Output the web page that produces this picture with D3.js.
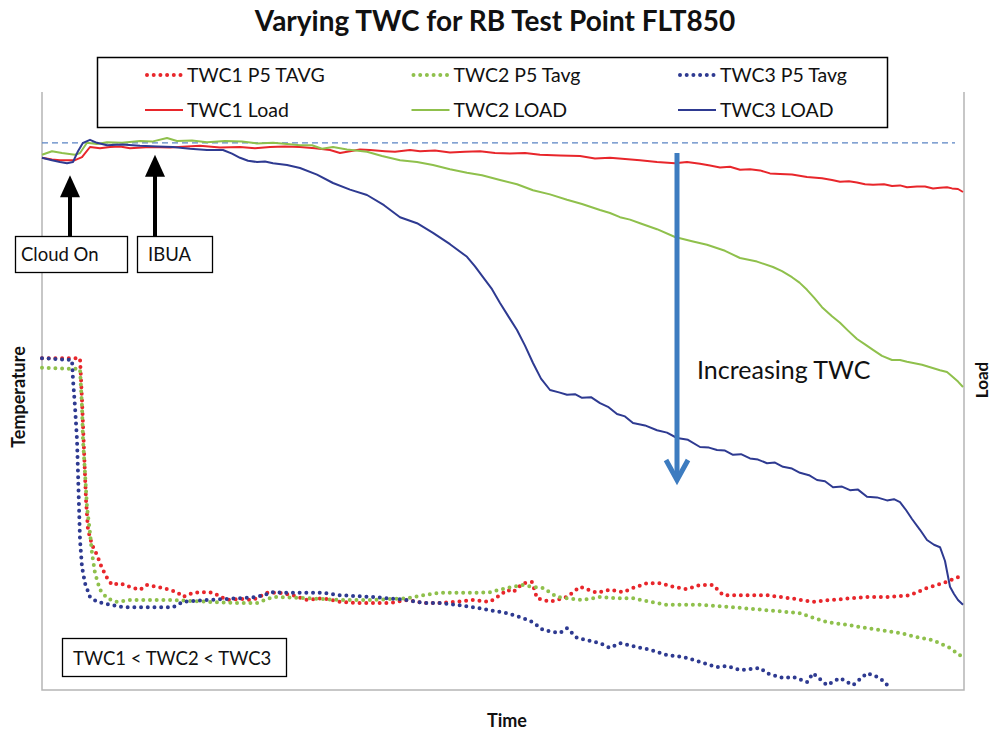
<!DOCTYPE html>
<html>
<head>
<meta charset="utf-8">
<script src="https://cdn.jsdelivr.net/npm/d3@7"></script>
<style>
  body { margin: 0; background: #fff; }
  text { font-family: Lato, 'Open Sans', sans-serif; fill: #111; }
</style>
</head>
<body>
<svg width="994" height="734"></svg>
<script>
// time in seconds, temperature / load in relative units (0-100)
const twc1Temp = [[0,55.3],[76,55.3],[80,48.3],[84,40.0],[88,31.7],[92,26.7],[100,24.2],[110,22.5],[120,20.3],[130,18.7],[140,17.5],
  [156,17.8],[176,17.2],[196,16.7],[210,17.5],[242,17.0],[270,16.3],[282,15.5],[302,16.2],[330,16.3],[342,16.2],[370,15.0],[396,15.2],
  [422,15.0],[450,16.2],[476,16.2],[502,15.8],[530,15.0],[562,15.3],[596,14.7],[630,14.5],[662,14.5],[696,14.5],[730,15.0],[762,14.5],
  [796,14.5],[830,14.7],[862,15.0],[896,14.7],[916,15.8],[930,16.7],[942,16.3],[962,17.8],[980,18.0],[990,15.3],[1016,14.7],[1050,15.5],
  [1076,17.2],[1110,16.2],[1136,16.7],[1162,16.3],[1182,17.0],[1210,17.8],[1236,17.8],[1262,17.2],[1290,16.8],[1316,17.5],[1342,17.5],
  [1362,15.8],[1382,15.8],[1450,15.8],[1496,15.3],[1542,14.7],[1576,15.0],[1650,15.5],[1690,15.5],[1736,15.8],[1770,17.0],[1802,17.8],[1844,19.2]];

const twc2Temp = [[0,53.7],[76,53.5],[80,47.2],[82,41.7],[86,36.2],[90,30.5],[96,26.2],[100,22.8],[106,19.5],[116,16.7],[130,15.3],
  [150,14.7],[176,15.0],[210,15.0],[262,15.0],[330,14.7],[396,14.5],[430,14.5],[462,15.5],[530,15.3],[596,15.0],[662,15.0],[730,15.3],
  [762,15.8],[796,16.2],[862,16.2],[896,16.3],[930,17.0],[962,17.5],[982,17.2],[1002,17.0],[1030,15.5],[1050,15.3],[1082,15.0],
  [1116,15.5],[1150,15.3],[1182,15.3],[1216,14.7],[1250,14.2],[1316,14.2],[1382,13.8],[1450,13.3],[1516,12.8],[1536,12.2],[1570,11.3],
  [1616,10.8],[1650,10.3],[1716,9.5],[1750,8.8],[1782,8.3],[1816,7.0],[1844,5.3]];

const twc3Temp = [[0,55.3],[60,55.0],[62,51.7],[66,47.2],[70,41.7],[72,36.2],[74,30.5],[76,25.0],[80,20.5],[86,17.8],[96,15.5],
  [110,14.7],[136,14.2],[162,13.8],[196,13.8],[262,13.8],[282,14.7],[330,15.0],[396,15.3],[430,15.5],[462,16.3],[496,16.2],[530,16.2],
  [562,16.2],[596,15.8],[662,15.5],[730,15.0],[762,14.5],[796,14.5],[830,14.2],[862,13.8],[896,13.3],[930,12.8],[962,12.0],[982,11.3],
  [1002,10.0],[1036,9.5],[1050,10.3],[1070,8.7],[1116,7.8],[1136,7.0],[1156,7.8],[1182,7.3],[1216,6.7],[1250,5.8],[1282,5.5],[1316,4.7],
  [1350,3.8],[1370,4.0],[1396,3.3],[1436,3.7],[1450,2.8],[1482,2.0],[1502,2.2],[1530,1.3],[1542,2.8],[1570,0.8],[1596,2.0],[1622,0.8],
  [1650,2.8],[1676,2.0],[1692,0.7]];

const twc1Load = [[0,88.7],[20,88.4],[36,88.3],[66,88.3],[80,88.8],[96,90.5],[116,90.3],[136,90.5],[156,90.6],[176,90.3],[216,90.5],
  [256,90.4],[316,90.7],[356,90.4],[396,90.5],[426,90.3],[456,90.5],[486,90.6],[516,90.5],[546,90.3],[576,90.0],[596,89.5],[616,89.8],
  [636,90.1],[656,90.0],[686,89.8],[706,89.7],[736,90.0],[756,89.8],[786,89.9],[816,89.6],[846,89.7],[876,89.8],[906,89.5],[936,89.4],
  [966,89.5],[996,89.2],[1036,89.1],[1076,89.0],[1106,88.6],[1136,88.7],[1166,88.5],[1196,88.3],[1230,88.0],[1266,87.8],[1290,88.0],
  [1316,87.7],[1336,87.4],[1356,87.1],[1376,87.2],[1396,86.7],[1416,86.8],[1436,86.6],[1456,86.1],[1476,86.0],[1500,85.9],[1530,85.5],
  [1560,85.3],[1580,85.0],[1596,84.7],[1614,84.8],[1630,84.6],[1646,84.3],[1662,84.2],[1684,84.3],[1700,84.0],[1716,84.1],[1730,83.8],
  [1750,83.9],[1766,83.9],[1782,83.6],[1796,83.7],[1810,83.8],[1820,83.6],[1832,83.5],[1842,83.0]];

const twc2Load = [[0,89.2],[20,89.8],[40,89.5],[66,89.2],[76,89.5],[90,91.2],[110,91.0],[130,91.3],[160,91.2],[196,91.5],[220,91.4],
  [250,92.0],[270,91.5],[300,91.6],[330,91.3],[366,91.5],[400,91.4],[430,91.1],[462,91.2],[490,91.0],[516,90.8],[540,90.8],[560,90.2],
  [582,90.5],[610,90.1],[650,89.7],[680,89.0],[716,88.3],[750,88.0],[782,87.5],[816,86.8],[850,86.2],[880,85.8],[916,85.0],[950,84.3],
  [982,83.3],[1016,82.6],[1050,81.7],[1080,81.0],[1116,80.0],[1136,79.5],[1156,78.8],[1176,78.4],[1196,77.8],[1230,76.8],[1266,75.5],
  [1300,74.8],[1330,74.2],[1366,73.2],[1396,72.0],[1430,71.4],[1462,70.5],[1480,69.8],[1500,68.8],[1515,67.9],[1530,66.7],[1545,65.3],
  [1560,63.8],[1580,62.3],[1596,61.2],[1612,59.9],[1630,58.5],[1646,57.6],[1662,56.7],[1680,55.7],[1700,55.0],[1716,55.0],[1730,54.7],
  [1760,54.2],[1796,53.3],[1810,53.0],[1820,52.3],[1832,51.4],[1842,50.5]];

const twc3Load = [[0,88.7],[20,88.3],[36,88.0],[50,87.8],[62,88.0],[72,89.8],[82,91.2],[96,91.7],[110,91.2],[130,90.8],[160,90.9],
  [196,90.7],[230,90.6],[262,90.5],[296,90.2],[330,90.0],[362,90.0],[380,89.4],[396,88.7],[412,88.2],[430,88.0],[446,88.1],[462,87.8],
  [490,87.5],[516,87.0],[550,85.9],[582,84.5],[616,83.4],[650,82.5],[684,80.8],[716,78.8],[750,77.8],[782,76.2],[816,74.3],[850,72.2],
  [866,70.6],[882,68.8],[900,66.8],[916,64.5],[934,62.1],[950,60.0],[966,57.4],[982,54.5],[998,51.9],[1016,50.0],[1034,49.6],[1050,49.2],
  [1066,49.3],[1080,48.7],[1098,48.8],[1116,47.8],[1132,47.2],[1150,46.0],[1166,45.6],[1182,44.5],[1206,44.1],[1230,43.3],[1250,42.9],
  [1270,42.0],[1292,41.7],[1316,40.5],[1334,40.4],[1350,40.0],[1366,39.9],[1382,39.2],[1398,39.3],[1416,38.6],[1432,38.4],[1450,37.8],
  [1466,37.9],[1482,37.2],[1500,36.9],[1516,36.2],[1534,35.8],[1550,35.0],[1566,34.8],[1582,33.8],[1600,33.9],[1616,33.3],[1632,33.4],
  [1650,32.2],[1670,32.1],[1690,31.6],[1704,31.8],[1716,31.3],[1728,30.0],[1740,28.5],[1756,26.7],[1770,25.0],[1784,24.2],[1796,23.8],
  [1806,21.5],[1816,17.2],[1824,16.0],[1832,15.0],[1842,14.2]];

const refLoad = 91.2;

const seriesNames = ['TWC1 P5 TAVG', 'TWC2 P5 Tavg', 'TWC3 P5 Tavg', 'TWC1 Load', 'TWC2 LOAD', 'TWC3 LOAD'];
const seriesColors = ['#e8262b', '#8fc04c', '#2e3a91', '#e8262b', '#8fc04c', '#2e3a91'];

const notes = [
  {label: 'Cloud On', t: 56, v: 85.8},
  {label: 'IBUA', t: 226, v: 89.2}
];

const svg = d3.select('svg');
const margin = {top: 92, right: 30, bottom: 44, left: 42};
const width = +svg.attr('width') - margin.left - margin.right;
const height = +svg.attr('height') - margin.top - margin.bottom;

const x = d3.scaleLinear()
  .domain([0, 1844])
  .range([margin.left, margin.left + width]);

const yTemp = d3.scaleLinear()
  .domain([0, 100])
  .range([margin.top + height, margin.top - 2]);

const yLoad = d3.scaleLinear()
  .domain([0, 100])
  .range([margin.top + height, margin.top - 2]);

// frame (left, right, bottom)
svg.append('path')
  .attr('d', `M${x(0)},${margin.top}V${yTemp(0)}H${x(1844)}V${margin.top}`)
  .attr('stroke', '#b5b5b5')
  .attr('stroke-width', 1.5)
  .attr('fill', 'none');

// title + axis titles
svg.append('text')
  .attr('x', 495)
  .attr('y', 31)
  .attr('text-anchor', 'middle')
  .attr('font-size', 28)
  .attr('font-weight', 'bold')
  .text('Varying TWC for RB Test Point FLT850');

svg.append('text')
  .attr('transform', 'translate(25,397) rotate(-90)')
  .attr('text-anchor', 'middle')
  .attr('font-size', 18)
  .attr('font-weight', 'bold')
  .text('Temperature');

svg.append('text')
  .attr('transform', 'translate(988,380) rotate(-90)')
  .attr('text-anchor', 'middle')
  .attr('font-size', 17)
  .attr('font-weight', 'bold')
  .text('Load');

svg.append('text')
  .attr('x', 507)
  .attr('y', 727)
  .attr('text-anchor', 'middle')
  .attr('font-size', 18)
  .attr('font-weight', 'bold')
  .text('Time');

// reference dashed line
svg.append('line')
  .attr('x1', x(0))
  .attr('x2', x(1826))
  .attr('y1', yLoad(refLoad))
  .attr('y2', yLoad(refLoad))
  .attr('stroke', '#5b84c4')
  .attr('stroke-width', 1.2)
  .attr('stroke-dasharray', '6 4');

const lineT = d3.line().x(d => x(d[0])).y(d => yTemp(d[1]));
const lineL = d3.line().x(d => x(d[0])).y(d => yLoad(d[1]));

const tempSeries = [twc1Temp, twc2Temp, twc3Temp];
const loadSeries = [twc1Load, twc2Load, twc3Load];

svg.append('g').selectAll('path')
  .data(tempSeries)
  .enter().append('path')
    .attr('d', lineT)
    .attr('fill', 'none')
    .attr('stroke', (d, i) => seriesColors[i])
    .attr('stroke-width', 4)
    .attr('stroke-linecap', 'round')
    .attr('stroke-dasharray', '0 6.7');

svg.append('g').selectAll('path')
  .data(loadSeries)
  .enter().append('path')
    .attr('d', lineL)
    .attr('fill', 'none')
    .attr('stroke', (d, i) => seriesColors[i + 3])
    .attr('stroke-width', 2)
    .attr('stroke-linejoin', 'round');

// legend
const legend = svg.append('g');
legend.append('rect')
  .attr('x', 97.5)
  .attr('y', 57.5)
  .attr('width', 790)
  .attr('height', 70)
  .attr('fill', '#fff')
  .attr('stroke', '#000')
  .attr('stroke-width', 1.5);

const legendItem = legend.selectAll('.item')
  .data(seriesNames)
  .enter().append('g')
    .attr('class', 'item')
    .attr('transform', (d, i) => `translate(${145 + (i % 3) * 266.5},${i < 3 ? 75 : 110})`);

legendItem.append('line')
  .attr('x1', (d, i) => i < 3 ? 2 : 0)
  .attr('x2', 38)
  .attr('stroke', (d, i) => seriesColors[i])
  .attr('stroke-width', (d, i) => i < 3 ? 4 : 2)
  .attr('stroke-linecap', (d, i) => i < 3 ? 'round' : 'butt')
  .attr('stroke-dasharray', (d, i) => i < 3 ? '0 6.7' : null);

legendItem.append('text')
  .attr('x', 42)
  .attr('dy', '0.35em')
  .attr('font-size', 19.5)
  .text(d => d);

// annotations
const note = svg.selectAll('.note')
  .data(notes)
  .enter().append('g')
    .attr('class', 'note');

note.append('line')
  .attr('x1', d => x(d.t))
  .attr('x2', d => x(d.t))
  .attr('y1', 236)
  .attr('y2', d => yLoad(d.v) + 18)
  .attr('stroke', '#000')
  .attr('stroke-width', 4);

note.append('path')
  .attr('d', d => {
    const cx = x(d.t), cy = yLoad(d.v);
    return `M${cx},${cy}L${cx - 10},${cy + 22}L${cx + 10},${cy + 22}Z`;
  })
  .attr('fill', '#000');

const noteBox = [{x: 15, w: 112}, {x: 137, w: 75}];
note.append('rect')
  .attr('x', (d, i) => noteBox[i].x + 0.5)
  .attr('y', 236.5)
  .attr('width', (d, i) => noteBox[i].w)
  .attr('height', 36)
  .attr('fill', '#fff')
  .attr('stroke', '#000')
  .attr('stroke-width', 1.3);

note.append('text')
  .attr('x', (d, i) => noteBox[i].x + 6 + (i ? 5 : 0))
  .attr('y', 261)
  .attr('font-size', 18.5)
  .text(d => d.label);

// TWC ordering note
svg.append('rect')
  .attr('x', 62.5)
  .attr('y', 638.5)
  .attr('width', 224)
  .attr('height', 38)
  .attr('fill', '#fff')
  .attr('stroke', '#000')
  .attr('stroke-width', 1.3);
svg.append('text')
  .attr('x', 73)
  .attr('y', 665)
  .attr('font-size', 18.5)
  .text('TWC1 < TWC2 < TWC3');

// increasing TWC arrow
const arrowT = 1270;
svg.append('line')
  .attr('x1', x(arrowT))
  .attr('x2', x(arrowT))
  .attr('y1', yLoad(89.5))
  .attr('y2', yLoad(35))
  .attr('stroke', '#3d7cc0')
  .attr('stroke-width', 5);
svg.append('path')
  .attr('d', `M${x(arrowT) - 11},${yLoad(35) - 20}L${x(arrowT)},${yLoad(35)}L${x(arrowT) + 11},${yLoad(35) - 20}`)
  .attr('fill', 'none')
  .attr('stroke', '#3d7cc0')
  .attr('stroke-width', 5)
  .attr('stroke-linejoin', 'miter');

svg.append('text')
  .attr('x', x(1310))
  .attr('y', yLoad(52) + 1)
  .attr('font-size', 25)
  .text('Increasing TWC');
</script>
</body>
</html>
